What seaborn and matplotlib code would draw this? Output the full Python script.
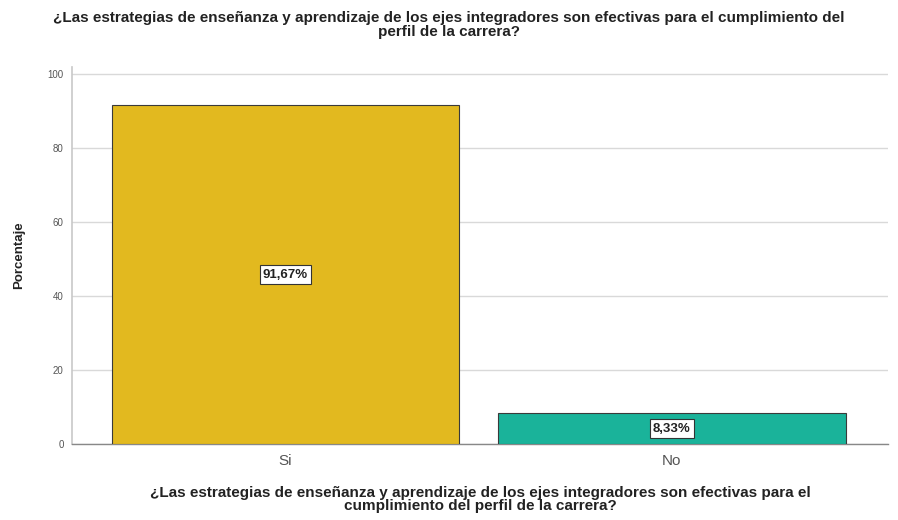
import matplotlib
matplotlib.use("Agg")
import matplotlib.pyplot as plt
import seaborn as sns
import pandas as pd

categories = ["Si", "No"]
percentages = [91.67, 8.33]
value_labels = ["91,67%", "8,33%"]
bar_colors = ["#E2B91F", "#1AB39A"]
y_ticks = [0, 20, 40, 60, 80, 100]

question = ("¿Las estrategias de enseñanza y aprendizaje de los ejes integradores son efectivas para el cumplimiento del\n"
            "perfil de la carrera?")
x_title = ("¿Las estrategias de enseñanza y aprendizaje de los ejes integradores son efectivas para el\n"
           "cumplimiento del perfil de la carrera?")

sns.set_theme(style="white")
plt.rcParams["font.family"] = ["Liberation Sans", "DejaVu Sans"]

df = pd.DataFrame({"respuesta": categories, "porcentaje": percentages})

fig = plt.figure(figsize=(8.98, 5.2), dpi=100)
ax = fig.add_axes([0.080, 0.146, 0.909, 0.725])

sns.barplot(data=df, x="respuesta", y="porcentaje", hue="respuesta",
            palette=bar_colors, saturation=1, width=0.9,
            edgecolor="#3a3a3a", linewidth=0.8,
            legend=False, ax=ax, zorder=3)

ax.set_xlim(-0.553, 1.56)
ax.set_ylim(0, 102)
ax.set_yticks(y_ticks)
ax.set_yticklabels([str(t) for t in y_ticks], fontsize=7, color="#555555")
ax.yaxis.grid(True, color="#d9d9d9", linewidth=1.0, zorder=0)
ax.tick_params(axis="x", labelsize=11, colors="#555555", length=0, pad=7)
ax.tick_params(axis="y", length=0, pad=6)

for s in ["top", "right"]:
    ax.spines[s].set_visible(False)
ax.spines["left"].set_color("#c8c8c8")
ax.spines["left"].set_linewidth(1.2)
ax.spines["bottom"].set_color("#888888")
ax.spines["bottom"].set_linewidth(1.0)

for i, (v, lab) in enumerate(zip(percentages, value_labels)):
    ax.text(i, v / 2, lab, ha="center", va="center", fontsize=9.5,
            fontweight="bold", color="#222222", zorder=5,
            bbox=dict(boxstyle="square,pad=0.25", facecolor="white",
                      edgecolor="#333333", linewidth=0.8))

ax.set_ylabel("Porcentaje", fontsize=9.5, fontweight="bold", color="#222222", labelpad=16)
ax.set_xlabel(x_title, fontsize=11, fontweight="bold", color="#222222",
              labelpad=13, linespacing=0.95)

fig.text(0.5, 0.978, question, ha="center", va="top", fontsize=11,
         fontweight="bold", color="#222222", linespacing=1.0)

fig.savefig("out.png", dpi=100)
